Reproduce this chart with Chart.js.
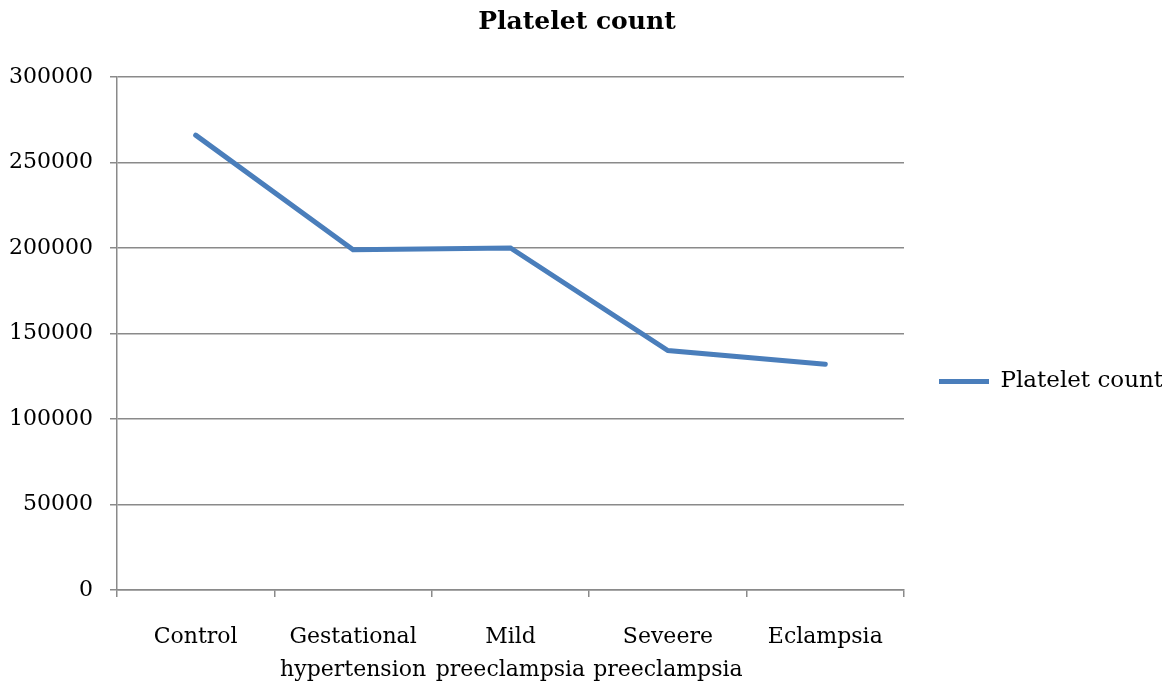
<!DOCTYPE html>
<html>
<head>
<meta charset="utf-8">
<script src="https://cdn.jsdelivr.net/npm/chart.js@4.4.0/dist/chart.umd.min.js"></script>
<style>
    body { margin: 0; background: #ffffff; }
    canvas { display: block; }
</style>
</head>
<body>
<canvas id="plateletChart" width="1162" height="685"></canvas>
<script>
// categories, split into two lines where the original wraps them
const groups = [
    'Control',
    ['Gestational', 'hypertension'],
    ['Mild', 'preeclampsia'],
    ['Seveere', 'preeclampsia'],
    'Eclampsia'
];
const plateletCount = [266000, 199000, 200000, 140000, 132000];
const yTicks = [0, 50000, 100000, 150000, 200000, 250000, 300000];

const serif = '"DejaVu Serif", "Liberation Serif", serif';
const gridGrey = '#8a8a8a';

const plateletChart = new Chart(document.getElementById('plateletChart'), {
    type: 'line',
    data: {
        labels: groups,
        datasets: [{
            label: 'Platelet count',
            data: plateletCount,
            borderColor: '#4a7ebb',
            backgroundColor: '#4a7ebb',
            borderWidth: 5,
            pointRadius: 0,
            tension: 0,
            borderCapStyle: 'round'
        }]
    },
    options: {
        responsive: false,
        devicePixelRatio: 1,
        animation: false,
        layout: {
            padding: { left: -8, right: 0, top: 0, bottom: -26 }
        },
        plugins: {
            title: {
                display: true,
                text: 'Platelet count',
                color: '#000000',
                font: { family: serif, size: 25, weight: 'bold' },
                padding: { top: 7, bottom: 40 }
            },
            legend: {
                position: 'right',
                maxWidth: 258,
                //empty title only used to push the legend item down a bit
                title: {
                    display: true,
                    text: ' ',
                    font: { size: 10 },
                    padding: { top: 20, bottom: 20 }
                },
                labels: {
                    color: '#000000',
                    font: { family: serif, size: 23 },
                    usePointStyle: true,
                    pointStyle: 'line',
                    pointStyleWidth: 50,
                    padding: 35
                }
            },
            tooltip: { enabled: false }
        },
        scales: {
            x: {
                offset: true,
                grid: {
                    offset: true,
                    drawOnChartArea: false,
                    color: gridGrey,
                    lineWidth: 1.5,
                    tickLength: 7
                },
                border: { color: gridGrey, width: 1.5 },
                ticks: {
                    color: '#000000',
                    font: { family: serif, size: 22, lineHeight: 1.5 },
                    padding: 24,
                    maxRotation: 0,
                    autoSkip: false
                }
            },
            y: {
                min: 0,
                max: 300000,
                afterBuildTicks: (axis) => {
                    axis.ticks = yTicks.map(v => ({ value: v }));
                },
                grid: {
                    color: gridGrey,
                    lineWidth: 1.5,
                    tickLength: 7
                },
                border: { color: gridGrey, width: 1.5 },
                ticks: {
                    color: '#000000',
                    font: { family: serif, size: 22 },
                    padding: 17,
                    callback: (value) => String(value)
                }
            }
        }
    }
});
</script>
</body>
</html>
